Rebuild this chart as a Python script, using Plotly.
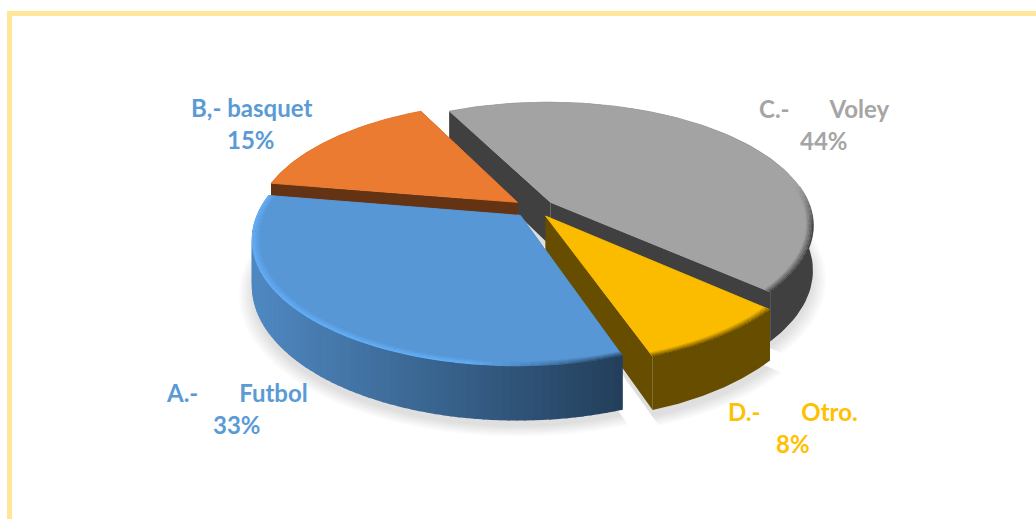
import math
from collections import defaultdict
import plotly.graph_objects as go

# Data
categories = ["A.-\u00a0\u00a0\u00a0\u00a0\u00a0\u00a0\u00a0Futbol", "B,- basquet",
              "C.-\u00a0\u00a0\u00a0\u00a0\u00a0\u00a0\u00a0Voley", "D.-\u00a0\u00a0\u00a0\u00a0\u00a0\u00a0\u00a0Otro."]
values = [33, 15, 44, 8]
label_colors = ["#5B9BD5", "#5B9BD5", "#A5A5A5", "#FFC000"]
top_colors = ["#5897D6", "#EB7B30", "#A3A3A3", "#FBBC00"]
wall_colors = ["#3A668F", "#633314", "#404040", "#664D00"]
label_centers = [(237, 393), (251, 108), (824, 109), (793, 412)]

# Projection of the tilted disc onto the pixel-based axes
CX, CY, A, B, K, DEPTH = 534.0, 208.0, 260.0, 120.0, 0.18, 44.0
EXPLODE = 0.08
START_ANGLE = 160.8


def proj(u, v, depth=0.0, shift=0.0):
    s = 1 / (1 - K * v)
    return CX + A * u * s, CY + (B * v + depth) * s + shift


def lerp(c1, c2, t):
    t = max(0.0, min(1.0, t))
    a = [int(c1[i:i + 2], 16) for i in (1, 3, 5)]
    b = [int(c2[i:i + 2], 16) for i in (1, 3, 5)]
    return "#%02x%02x%02x" % tuple(round(p + (q - p) * t) for p, q in zip(a, b))


def poly(fig, pts, color, opacity=1.0, width=0.6):
    fig.add_trace(go.Scatter(
        x=[p[0] for p in pts] + [pts[0][0]], y=[p[1] for p in pts] + [pts[0][1]],
        mode="lines", fill="toself", fillcolor=color, opacity=opacity,
        line=dict(color=color, width=width), hoverinfo="skip", showlegend=False))


total = sum(values)
slices = []
ang = START_ANGLE
for val in values:
    sweep = 360 * val / total
    mid = math.radians(ang + sweep / 2)
    slices.append(dict(a0=ang, a1=ang + sweep,
                       ou=EXPLODE * math.sin(mid), ov=-EXPLODE * math.cos(mid)))
    ang += sweep


def rim(sl, n, r=1.0):
    out = []
    for i in range(n + 1):
        t = math.radians(sl["a0"] + (sl["a1"] - sl["a0"]) * i / n)
        out.append((sl["ou"] + r * math.sin(t), sl["ov"] - r * math.cos(t)))
    return out


fig = go.Figure()

# Soft shadow below the pie
for layer in range(8):
    r = 1.0 + layer * 0.007
    for idx in (0, 2, 3):
        sl = slices[idx]
        pts = [proj(u, v, DEPTH, 7) for u, v in rim(sl, 60, r)]
        poly(fig, pts + [proj(sl["ou"], sl["ov"], DEPTH, 7)], "#000000", 0.016, 0)


def walls(sl, color, seg_color=None):
    apex = (sl["ou"], sl["ov"])
    pts = rim(sl, 80)
    for end in (pts[0], pts[-1]):
        poly(fig, [proj(*apex), proj(*end), proj(*end, DEPTH), proj(*apex, DEPTH)], color, width=0)
    if seg_color is None:
        poly(fig, [proj(*p) for p in pts] + [proj(*p, DEPTH) for p in reversed(pts)], color, width=0)
    else:
        for p, q in zip(pts[:-1], pts[1:]):
            a, b = proj(*p), proj(*q)
            c = seg_color((a[0] + b[0]) / 2)
            poly(fig, [a, b, proj(*q, DEPTH), proj(*p, DEPTH)], c, width=1.6)


def top(sl, color):
    pts = [proj(*p) for p in rim(sl, 120)]
    poly(fig, pts + [proj(sl["ou"], sl["ov"])], color, width=0.9)


def bevel(sl, band_color, bands=6, dr=0.0055, width=1.6, n=70):
    groups = defaultdict(lambda: ([], []))
    for i in range(bands):
        r = 1.0 - i * dr
        pts = rim(sl, n, r)
        for p, q in zip(pts[:-1], pts[1:]):
            a, b = proj(*p), proj(*q)
            c = band_color((a[0] + b[0]) / 2, (p[1] + q[1]) / 2 - sl["ov"], i / (bands - 1))
            if c is None:
                continue
            xs, ys = groups[c]
            xs += [a[0], b[0], None]
            ys += [a[1], b[1], None]
    for c, (xs, ys) in groups.items():
        fig.add_trace(go.Scatter(x=xs, y=ys, mode="lines", line=dict(color=c, width=width),
                                 hoverinfo="skip", showlegend=False))


def solid_band(top_c, wall_c):
    def f(x, v, t):
        w = min(1.0, (v + 0.15) / 0.35)
        if w <= 0:
            return None
        return lerp(lerp(top_c, wall_c, w), top_c, t)
    return f


def blue_wall(x):
    return lerp("#4F88C1", "#223E5A", (x - 255) / 370)


def blue_band(x, v, t):
    edge = lerp("#64AFF8", "#274766", ((x - 470) / 140))
    return lerp(edge, top_colors[0], t)


# Painter's order: back slices first
walls(slices[2], wall_colors[2])
top(slices[2], top_colors[2])
bevel(slices[2], solid_band(top_colors[2], wall_colors[2]))

walls(slices[1], wall_colors[1])
top(slices[1], top_colors[1])

walls(slices[3], wall_colors[3])
top(slices[3], top_colors[3])
bevel(slices[3], solid_band(top_colors[3], wall_colors[3]))

walls(slices[0], wall_colors[0], blue_wall)
top(slices[0], top_colors[0])
bevel(slices[0], blue_band)

# Labels
for name, val, color, (lx, ly) in zip(categories, values, label_colors, label_centers):
    for text, yy in ((name, ly), (f"{val}%", ly + 32)):
        fig.add_annotation(x=lx, y=yy - 1, text=text, showarrow=False, xanchor="center", yanchor="middle",
                           font=dict(family="Lato", size=24, color=color, weight="bold"))

fig.add_shape(type="rect", x0=9.5, y0=13.5, x1=1100, y1=600, line=dict(color="#FFE699", width=5),
              fillcolor="rgba(0,0,0,0)")

fig.update_layout(
    width=1036, height=519, margin=dict(l=0, r=0, t=0, b=0),
    paper_bgcolor="white", plot_bgcolor="white", showlegend=False,
    xaxis=dict(range=[0, 1036], visible=False, fixedrange=True),
    yaxis=dict(range=[519, 0], visible=False, fixedrange=True),
)
fig.write_html("out.html", config={"displayModeBar": False},
               post_script="document.body.style.margin='0';")
